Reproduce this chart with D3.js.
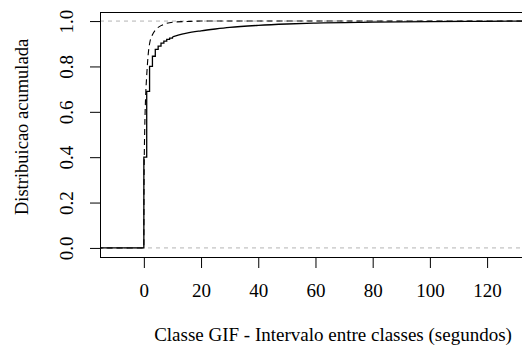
<!DOCTYPE html>
<html>
<head>
<meta charset="utf-8">
<script src="https://cdn.jsdelivr.net/npm/d3@7"></script>
<style>
  body { margin: 0; background: #fff; }
  text { font-family: "Liberation Serif", "Times New Roman", Times, serif; }
</style>
</head>
<body>
<div id="vis1"></div>
<script>
const FRAME_WIDTH = 522;
const FRAME_HEIGHT = 353;
const MARGINS = {left: 100, right: -8, top: 12, bottom: 96};

// empirical cdf, integer steps (seconds)
const STEP_X = [-20, 0, 1, 2, 3, 4, 5, 6, 7, 8, 9, 10];
const STEP_F = [0, 0.40, 0.69, 0.80, 0.845, 0.875, 0.89, 0.903, 0.912, 0.919, 0.925, 0.93];
// tail of the empirical cdf (many small steps, looks smooth)
const TAIL_X = [10, 12, 15, 20, 25, 30, 40, 50, 60, 80, 100, 120, 140];
const TAIL_F = [0.93, 0.938, 0.947, 0.957, 0.965, 0.972, 0.981, 0.987, 0.991, 0.995, 0.998, 0.999, 1.0];
// fitted distribution (dashed)
const FIT_X = [-20, 0, 0.05, 0.15, 0.3, 0.6, 1, 1.5, 2, 3, 4, 5, 6, 8, 10, 15, 20, 140];
const FIT_F = [0, 0, 0.25, 0.4, 0.52, 0.66, 0.76, 0.85, 0.9, 0.94, 0.96, 0.972, 0.98, 0.99, 0.995, 0.998, 1.0, 1.0];

const X_TICKS = [0, 20, 40, 60, 80, 100, 120];
const Y_TICKS = [0, 0.2, 0.4, 0.6, 0.8, 1.0];

const X_LABEL = 'Classe GIF - Intervalo entre classes (segundos)';
const Y_LABEL = 'Distribuicao acumulada';

const VIS_LEFT = MARGINS.left;
const VIS_RIGHT = FRAME_WIDTH - MARGINS.right;
const VIS_TOP = MARGINS.top;
const VIS_BOTTOM = FRAME_HEIGHT - MARGINS.bottom;
const FONT = '"Liberation Serif", "Times New Roman", Times, serif';

const FRAME1 = d3.select('#vis1')
  .append('svg')
    .attr('width', FRAME_WIDTH)
    .attr('height', FRAME_HEIGHT);

const X_SCALE = d3.scaleLinear()
  .domain([-15.33, 135])
  .range([VIS_LEFT, VIS_RIGHT]);

const Y_SCALE = d3.scaleLinear()
  .domain([-0.04, 1.04])
  .range([VIS_BOTTOM, VIS_TOP]);

FRAME1.append('clipPath')
  .attr('id', 'clip')
  .append('rect')
    .attr('x', VIS_LEFT)
    .attr('y', VIS_TOP)
    .attr('width', VIS_RIGHT - VIS_LEFT)
    .attr('height', VIS_BOTTOM - VIS_TOP);

const plot = FRAME1.append('g').attr('clip-path', 'url(#clip)');

// grey reference lines at 0 and 1
plot.selectAll('.ref')
  .data([0, 1])
  .enter()
  .append('line')
    .attr('x1', VIS_LEFT)
    .attr('x2', VIS_RIGHT)
    .attr('y1', (d) => Y_SCALE(d))
    .attr('y2', (d) => Y_SCALE(d))
    .attr('stroke', '#b3b3b3')
    .attr('stroke-dasharray', '4,4');

const stepData = STEP_X.map((x, i) => [x, STEP_F[i]]);
const tailData = TAIL_X.map((x, i) => [x, TAIL_F[i]]);
const fitData = FIT_X.map((x, i) => [x, FIT_F[i]]);

const lineStep = d3.line()
  .x((d) => X_SCALE(d[0]))
  .y((d) => Y_SCALE(d[1]))
  .curve(d3.curveStepAfter);

const lineSmooth = d3.line()
  .x((d) => X_SCALE(d[0]))
  .y((d) => Y_SCALE(d[1]))
  .curve(d3.curveMonotoneX);

plot.append('path')
  .datum(stepData)
  .attr('d', lineStep)
  .attr('fill', 'none')
  .attr('stroke', '#000')
  .attr('stroke-width', 1.3);

plot.append('path')
  .datum(tailData)
  .attr('d', lineSmooth)
  .attr('fill', 'none')
  .attr('stroke', '#000')
  .attr('stroke-width', 1.3);

plot.append('path')
  .datum(fitData)
  .attr('d', lineSmooth)
  .attr('fill', 'none')
  .attr('stroke', '#000')
  .attr('stroke-width', 1.1)
  .attr('stroke-dasharray', '6,4');

// box
FRAME1.append('rect')
  .attr('x', VIS_LEFT + 0.5)
  .attr('y', VIS_TOP + 0.5)
  .attr('width', VIS_RIGHT - VIS_LEFT)
  .attr('height', VIS_BOTTOM - VIS_TOP)
  .attr('fill', 'none')
  .attr('stroke', '#000');

// axes
const xAxis = FRAME1.append('g')
  .attr('transform', 'translate(0,' + (VIS_BOTTOM + 1) + ')')
  .attr('font-family', FONT)
  .call(d3.axisBottom(X_SCALE).tickValues(X_TICKS).tickSize(10).tickPadding(16).tickFormat(d3.format('d')));
xAxis.select('.domain').remove();
xAxis.selectAll('text').attr('font-size', '19px').attr('fill', '#000');

const yAxis = FRAME1.append('g')
  .attr('transform', 'translate(' + VIS_LEFT + ',0)')
  .attr('font-family', FONT)
  .call(d3.axisLeft(Y_SCALE).tickValues(Y_TICKS).tickSize(10).tickFormat(d3.format('.1f')));
yAxis.select('.domain').remove();
yAxis.selectAll('text')
  .attr('font-size', '19px')
  .attr('fill', '#000')
  .attr('x', null)
  .attr('dy', null)
  .attr('text-anchor', 'middle')
  .attr('transform', 'translate(-27,0) rotate(-90)');

FRAME1.append('text')
  .attr('x', 333)
  .attr('y', 341)
  .attr('text-anchor', 'middle')
  .attr('font-size', '19px')
  .text(X_LABEL);

FRAME1.append('text')
  .attr('transform', 'translate(28,' + 127 + ') rotate(-90)')
  .attr('text-anchor', 'middle')
  .attr('font-size', '18.5px')
  .text(Y_LABEL);
</script>
</body>
</html>
